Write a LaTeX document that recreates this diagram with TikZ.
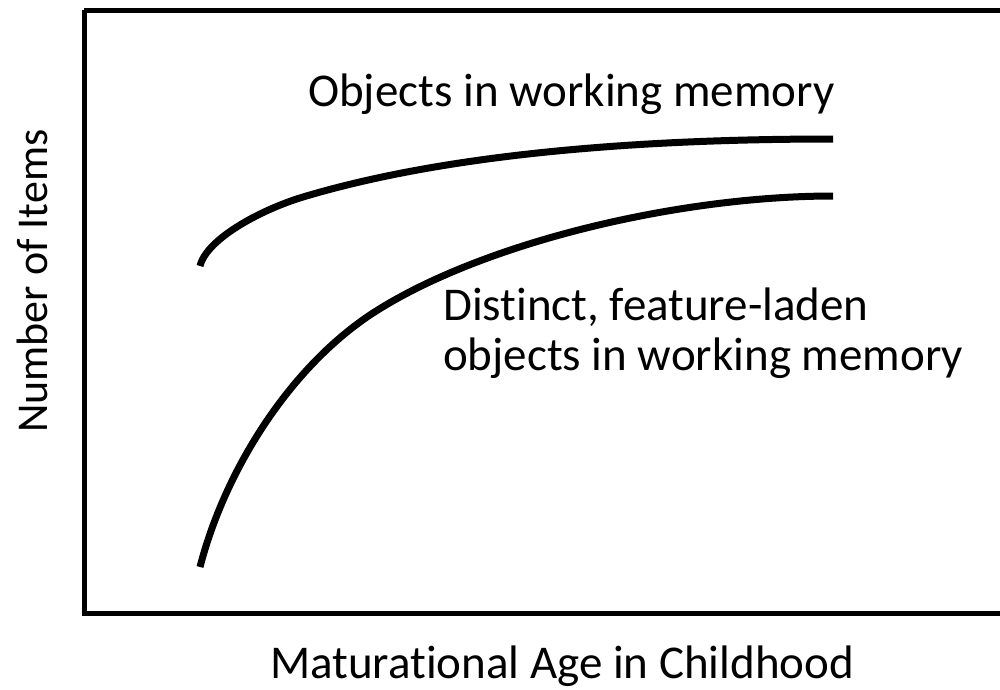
\documentclass[tikz,border=0pt]{standalone}
\usepackage{fontspec}
\setmainfont{Carlito}[Ligatures={NoCommon}]
\begin{document}
\begin{tikzpicture}[x=1pt,y=-1pt,
  lbl/.style={inner sep=0pt, anchor=base west, font=\fontsize{47}{50}\selectfont, align=left},
  curve/.style={line width=7pt, line cap=butt},
  frame/.style={line width=5pt}]
\clip (0,0) rectangle (1000,689);
\fill[white] (0,0) rectangle (1000,689);
\draw[frame] (84,10) -- (1010,10) (84,10) -- (84,613) -- (1010,613);
% upper curve
\draw[curve] (200,266) .. controls (207,238) and (263,209) .. (303,197)
                       .. controls (453,152) and (650,139) .. (833,139);
% lower curve
\draw[curve] (200,567) .. controls (225,470) and (290,367) .. (373,313)
                       .. controls (483,242) and (680,196) .. (833,196);
\node[lbl] (top) at (308,106) {Objects in working memory};
\node[lbl] (low) at (443,370) {Distinct, feature-laden\\objects in working memory};
\node[lbl] (xl) at (270,678) {Maturational Age in Childhood};
\node[lbl, rotate=90, font=\fontsize{44}{48}\selectfont] (yl) at (47,433) {Number of Items};
\end{tikzpicture}
\end{document}
